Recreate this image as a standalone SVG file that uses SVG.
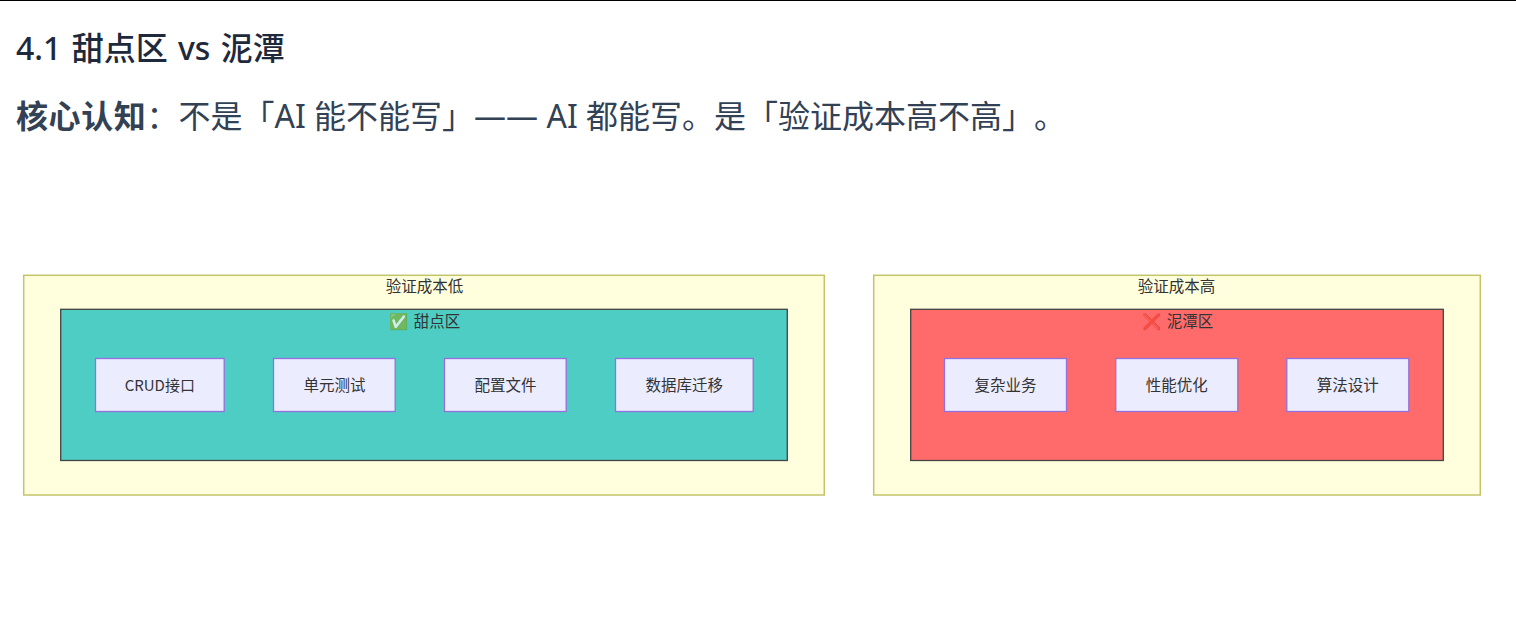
<svg xmlns="http://www.w3.org/2000/svg" width="1516" height="620" viewBox="0 0 1516 620">
<style>
text{font-family:"Noto Sans","Noto Sans CJK SC",sans-serif;text-spacing-trim:space-all}
.h{font-size:32px;font-weight:500;fill:#1e293b;word-spacing:2px}
.p{font-size:32px;fill:#334155}
.b{font-weight:700;letter-spacing:.6px}
.l{font-size:15.500px;fill:#333;text-anchor:middle;font-family:"Noto Sans CJK SC",sans-serif}
.e{font-size:15.500px;text-anchor:middle;opacity:.75}
.o{fill:#ffffde;stroke:#c4c46a;stroke-width:1.500}
.n{fill:#ececff;stroke:#9370db;stroke-width:1.300}
.s{stroke:#444;stroke-width:1.300}
</style>
<rect width="1516" height="620" fill="#fff"/>
<rect x="0" y="0" width="1516" height="1" fill="#000"/>
<text id="title" class="h" x="16" y="60">4.1 甜点区 vs 泥潭</text>
<text id="para-lead" class="p b" x="16" y="128">核心认知</text>
<text id="para" class="p" x="146.500" y="128">：不是「AI 能不能写」—— AI 都能写。是「验证成本高不高」。</text>
<g id="low"><rect class="o" x="23.700" y="275.300" width="800.600" height="219.700"/><text class="l" x="424.500" y="291.500">验证成本低</text></g>
<g id="sweet"><rect class="s" x="60.700" y="309.300" width="726.600" height="151.200" fill="#4ecdc4"/><text class="e" x="398" y="326.500">✅</text><text class="l" x="437" y="326.500">甜点区</text></g>
<g id="n1"><rect class="n" x="95.500" y="358.500" width="128.700" height="53"/><text class="l" x="159.800" y="390.500" style="font-size:15px">CRUD接口</text></g>
<g id="n2"><rect class="n" x="273.500" y="358.500" width="121.700" height="53"/><text class="l" x="334.500" y="390.500">单元测试</text></g>
<g id="n3"><rect class="n" x="444.500" y="358.500" width="121.700" height="53"/><text class="l" x="505.500" y="390.500">配置文件</text></g>
<g id="n4"><rect class="n" x="615.500" y="358.500" width="137.700" height="53"/><text class="l" x="684.300" y="390.500">数据库迁移</text></g>
<g id="high"><rect class="o" x="873.700" y="275.300" width="606.600" height="219.700"/><text class="l" x="1176.500" y="291.500">验证成本高</text></g>
<g id="swamp"><rect class="s" x="910.700" y="309.300" width="532.600" height="151.200" fill="#ff6b6b"/><text class="e" x="1151" y="326.500">❌</text><text class="l" x="1190" y="326.500">泥潭区</text></g>
<g id="n5"><rect class="n" x="944.500" y="358.500" width="122" height="53"/><text class="l" x="1005.500" y="390.500">复杂业务</text></g>
<g id="n6"><rect class="n" x="1115.800" y="358.500" width="122" height="53"/><text class="l" x="1176.800" y="390.500">性能优化</text></g>
<g id="n7"><rect class="n" x="1286.800" y="358.500" width="122" height="53"/><text class="l" x="1347.800" y="390.500">算法设计</text></g>
<g id="connectors"></g>
</svg>
